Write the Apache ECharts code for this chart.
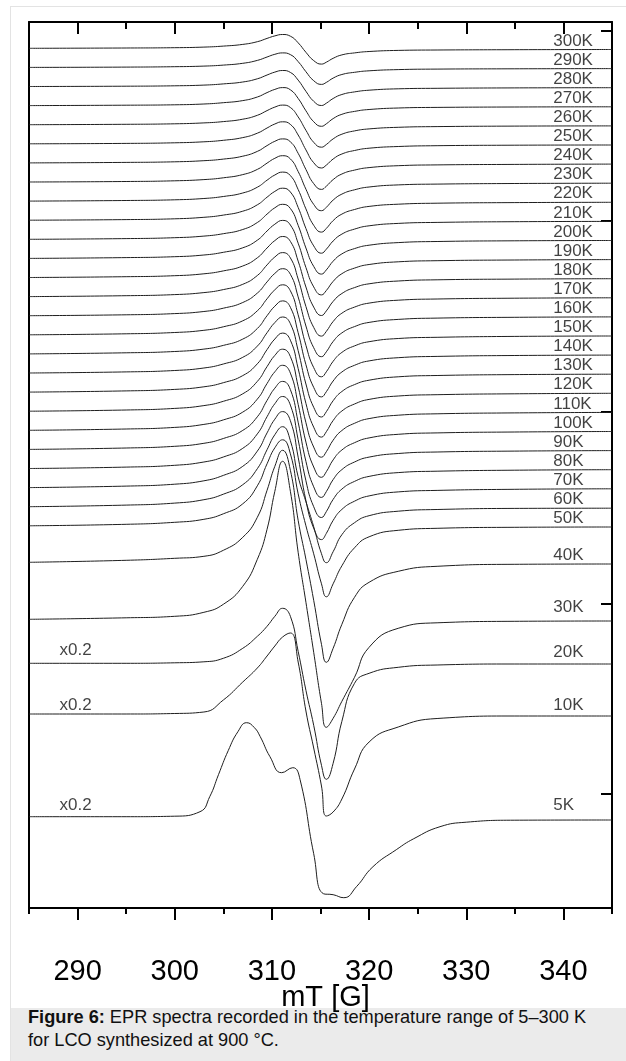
<!DOCTYPE html>
<html>
<head>
<meta charset="utf-8">
<script src="https://cdn.jsdelivr.net/npm/echarts@6/dist/echarts.min.js"></script>
<style>
  html, body { margin: 0; padding: 0; background: #fff; }
  #wrap { position: relative; width: 626px; height: 1061px; overflow: hidden; background: #fff; }
  #frame { position: absolute; left: 10px; top: 6px; width: 640px; height: 1080px; border: 1px solid #e3e3e3; box-sizing: border-box; }
  #chart { position: absolute; left: 0; top: 0; width: 626px; height: 1061px; }
  #caption { position: absolute; left: 11px; top: 1008px; width: 640px; height: 70px; background: #ebebeb;
    font-family: "Liberation Sans", Arial, sans-serif; font-size: 18.2px; line-height: 23px; color: #111; padding: 0 0 0 17px; box-sizing: border-box; }
  #caption div { position: relative; top: -2px; }
</style>
</head>
<body>
<div id="wrap">
  <div id="frame"></div>
  <div id="caption"><div><b>Figure 6:</b> EPR spectra recorded in the temperature range of 5–300 K<br>for LCO synthesized at 900 °C.</div></div>
  <div id="chart"></div>
</div>
<script>
// ---------------- data ----------------
// magnetic field grid (mT) shared by the 300K ... 10K spectra
const field = [285, 295, 300, 303, 305, 307, 308.5, 309.5, 310.3, 311.1, 311.9, 312.7, 313.5, 314.3, 315.1, 315.6, 316.3, 317.2, 318.5, 320, 323, 327, 335, 345];
// field grid for the 5K spectrum
const field5K = [285, 295, 300, 302.6, 303.6, 304.5, 305.5, 306.5, 307.4, 308.2, 308.8, 309.8, 311, 312.15, 312.9, 314.3, 315.3, 316.3, 317.4, 318.7, 320.4, 322.8, 324.6, 327.3, 330, 335, 345];

const temps = ['300K','290K','280K','270K','260K','250K','240K','230K','220K','210K','200K','190K','180K','170K','160K','150K','140K','130K','120K','110K','100K','90K','80K','70K','60K','50K','40K','30K','20K','10K','5K'];

// vertical stacking offsets of each spectrum (a.u.)
const offsets = [859.7, 840.6, 821.5, 802.4, 783.3, 764.2, 745.1, 726.0, 706.9, 687.8, 668.7, 649.6, 630.5, 611.4, 592.3, 573.2, 554.1, 535.0, 515.9, 496.8, 477.7, 458.6, 439.5, 420.4, 401.3, 382.2, 345.7, 288.7, 244.7, 194.0, 91.3];

// EPR derivative signals (a.u.)
const s300K = [0, 0.3, 0.6, 1.2, 2.2, 3.9, 6.6, 9.9, 12.4, 13.8, 12.1, 5.5, -4.0, -12.3, -15.8, -13.9, -10.0, -6.6, -4.6, -3.2, -2.1, -1.7, -1.4, -1.2];
const s290K = [0, 0.3, 0.7, 1.3, 2.3, 4.1, 7.0, 10.4, 13.1, 14.5, 12.8, 5.8, -4.3, -13.3, -17, -15.0, -10.7, -7.1, -4.9, -3.4, -2.2, -1.7, -1.4, -1.2];
const s280K = [0, 0.3, 0.7, 1.4, 2.6, 4.5, 7.7, 11.5, 14.4, 16, 14.1, 6.4, -4.8, -14.8, -19, -16.7, -12.0, -8.0, -5.4, -3.7, -2.3, -1.8, -1.4, -1.2];
const s270K = [0, 0.4, 0.8, 1.6, 2.9, 5.0, 8.6, 13.0, 16.2, 18, 15.8, 7.2, -5.2, -16.1, -20.7, -18.2, -13.0, -8.7, -5.8, -3.9, -2.4, -1.8, -1.4, -1.2];
const s260K = [0, 0.4, 0.9, 1.8, 3.1, 5.5, 9.4, 14.1, 17.6, 19.6, 17.2, 7.8, -5.6, -17.6, -22.5, -19.8, -14.2, -9.5, -6.2, -4.2, -2.6, -1.9, -1.4, -1.2];
const s250K = [0, 0.4, 1.0, 2.0, 3.5, 6.2, 10.6, 15.8, 19.8, 22, 19.4, 8.8, -6.1, -18.9, -24.2, -21.3, -15.2, -10.2, -6.7, -4.4, -2.7, -1.9, -1.4, -1.2];
const s240K = [0, 0.5, 1.1, 2.2, 3.8, 6.7, 11.5, 17.3, 21.6, 24, 21.1, 9.6, -6.6, -20.7, -26.5, -23.3, -16.7, -11.1, -7.2, -4.7, -2.8, -2.0, -1.5, -1.2];
const s230K = [0, 0.5, 1.2, 2.4, 4.2, 7.4, 12.6, 18.9, 23.7, 26.3, 23.1, 10.5, -7.2, -22.4, -28.7, -25.3, -18.1, -12.1, -7.8, -5.0, -2.9, -2.1, -1.5, -1.2];
const s220K = [0, 0.6, 1.3, 2.6, 4.6, 8.1, 13.9, 20.9, 26.1, 29, 25.5, 11.6, -7.8, -24.2, -31, -27.3, -19.5, -13.0, -8.4, -5.3, -3.1, -2.1, -1.5, -1.2];
const s210K = [0, 0.6, 1.4, 2.9, 5.1, 9.0, 15.4, 23.0, 28.8, 32, 28.2, 12.8, -8.3, -25.7, -33, -29.0, -20.8, -13.9, -8.9, -5.6, -3.2, -2.2, -1.5, -1.2];
const s200K = [0, 0.7, 1.6, 3.2, 5.6, 9.8, 16.8, 25.2, 31.5, 35, 30.8, 14, -8.7, -27.1, -34.8, -30.6, -21.9, -14.6, -9.3, -5.9, -3.3, -2.2, -1.5, -1.2];
const s190K = [0, 0.8, 1.7, 3.4, 6.1, 10.6, 18.2, 27.4, 34.2, 38, 33.4, 15.2, -9.1, -28.5, -36.5, -32.1, -23.0, -15.3, -9.7, -6.1, -3.4, -2.3, -1.6, -1.2];
const s180K = [0, 0.8, 1.8, 3.7, 6.6, 11.5, 19.7, 29.5, 36.9, 41, 36.1, 16.4, -9.5, -29.6, -38, -33.4, -23.9, -16.0, -10.1, -6.3, -3.5, -2.3, -1.6, -1.2];
const s170K = [0, 0.9, 2.0, 4.0, 7.0, 12.3, 21.1, 31.7, 39.6, 44, 38.7, 17.6, -9.9, -30.8, -39.5, -34.8, -24.9, -16.6, -10.5, -6.5, -3.6, -2.4, -1.6, -1.2];
const s160K = [0, 0.9, 2.1, 4.2, 7.5, 13.2, 22.6, 33.8, 42.3, 47, 41.4, 18.8, -10.3, -32.0, -41, -36.1, -25.8, -17.2, -10.9, -6.7, -3.7, -2.4, -1.6, -1.2];
const s150K = [0, 1, 2.3, 4.5, 8, 14, 24, 36, 45, 50, 44, 20, -10.5, -32.8, -42, -37.0, -26.5, -17.6, -11.1, -6.9, -3.7, -2.5, -1.6, -1.2];
const s140K = [0, 1.1, 2.4, 4.8, 8.5, 14.8, 25.4, 38.2, 47.7, 53, 46.6, 21.2, -10.8, -33.5, -43, -37.8, -27.1, -18.1, -11.4, -7.0, -3.8, -2.5, -1.6, -1.2];
const s130K = [0, 1.1, 2.5, 5.0, 9.0, 15.7, 26.9, 40.3, 50.4, 56, 49.3, 22.4, -11, -34.3, -44, -38.7, -27.7, -18.5, -11.6, -7.2, -3.8, -2.5, -1.6, -1.2];
const s120K = [0, 1.2, 2.7, 5.3, 9.4, 16.5, 28.3, 42.5, 53.1, 59, 51.9, 23.6, -11.3, -35.1, -45, -39.6, -28.4, -18.9, -11.9, -7.3, -3.9, -2.6, -1.7, -1.2];
const s110K = [0, 1.2, 2.8, 5.6, 9.9, 17.4, 29.8, 44.6, 55.8, 62, 54.6, 24.8, -11.5, -35.9, -46, -40.5, -29.0, -19.3, -12.1, -7.4, -4.0, -2.6, -1.7, -1.2];
const s100K = [0, 1.3, 2.9, 5.9, 10.4, 18.2, 31.2, 46.8, 58.5, 65, 57.2, 26, -11.8, -36.7, -47, -41.4, -29.6, -19.7, -12.4, -7.6, -4.0, -2.6, -1.7, -1.2];
const s90K  = [0, 1.4, 3.1, 6.1, 10.9, 19.0, 32.6, 49.0, 61.2, 68, 59.8, 27.2, -12, -37.4, -48, -42.2, -30.2, -20.2, -12.6, -7.7, -4.1, -2.6, -1.7, -1.2];
const s80K  = [0, 1.4, 3.2, 6.5, 11.5, 20.2, 34.6, 51.8, 64.8, 72, 63.4, 28.8, -12.3, -38.2, -49, -43.1, -30.9, -20.6, -12.9, -7.9, -4.1, -2.7, -1.7, -1.2];
const s70K  = [0, 1.5, 3.4, 6.8, 12.2, 21.3, 36.5, 54.7, 68.4, 76, 66.9, 30.4, -13, -40.6, -52, -45.8, -32.8, -21.8, -13.6, -8.3, -4.3, -2.8, -1.7, -1.2];
const s60K  = [0, 1.6, 3.6, 7, 12.5, 22, 38, 57, 72, 80, 66, 30, 5, -20, -47, -56, -45, -28, -16, -9, -4.5, -2.8, -1.7, -1.5];
const s50K  = [0, 1.5, 3.5, 6.5, 12, 22, 40, 62, 78, 86, 72, 32, 0, -28, -58, -71, -58, -40, -22, -11, -4.5, -2.5, -1.5, -1.2];
const s40K  = [0, 2, 4, 6, 12, 25, 45, 72, 96, 112, 92, 42, 3, -38, -82, -100, -86, -62, -35, -20, -9, -4, -2, -1.7];
const s30K  = [0, 1.5, 3, 7, 15, 33, 60, 90, 128, 158, 128, 67, 17, -33, -84, -108, -99, -82, -58, -28, -9, -3.5, -2, -1.7];
const s20K  = [0, 0, 0.5, 1.5, 5, 15, 27, 37, 47, 55, 47, 12, -27, -62, -102, -116, -100, -58, -20, -10, -4, -1.7, -0.7, -0.7];
const s10K  = [0, 0, 0.5, 2, 14, 32, 46, 58, 68, 77, 81, 52, 3, -34, -72, -102, -98, -85, -55, -28, -13, -4.5, -2, -2];
const s5K   = [0, 0, 0.5, 5, 20, 42, 66, 85, 94, 89, 80, 60, 44, 49, 37, -37, -77, -78, -81, -70, -50, -33, -22, -10, -5.5, -3.5, -3.3];

const signals = [s300K, s290K, s280K, s270K, s260K, s250K, s240K, s230K, s220K, s210K, s200K, s190K, s180K, s170K, s160K, s150K, s140K, s130K, s120K, s110K, s100K, s90K, s80K, s70K, s60K, s50K, s40K, s30K, s20K, s10K, s5K];
const scaled = ['20K', '10K', '5K'];   // spectra drawn with factor x0.2
const xTicksMajor = [290, 300, 310, 320, 330, 340];
const xTicksMinor = [285, 295, 305, 315, 325, 335, 345];
const yTicks = [877, 687, 496, 304, 114];

// ---------------- layout (not data) ----------------
const FONT = '"Liberation Sans", Arial, Helvetica, sans-serif';
const labelX = 338.9;                 // field position of the temperature labels
const scaleLabelX = 288.1;            // field position of the "x0.2" labels
const labelRaise = temps.map((t, i) => ({'40K': 9, '30K': 14, '20K': 12, '10K': 11, '5K': 15})[t] || 8.5);
const scaleRaise = {'20K': 13, '10K': 9, '5K': 11};

// ---------------- build ----------------
const lineSeries = temps.map((t, i) => {
  const xs = t === '5K' ? field5K : field;
  return {
    type: 'line', name: t, xAxisIndex: 0, yAxisIndex: 0,
    data: xs.map((x, j) => [x, offsets[i] + signals[i][j]]),
    smooth: 0.5, symbol: 'none', silent: true,
    lineStyle: { color: '#1e1e1e', width: 1 }
  };
});

const tempLabelData = temps.map((t, i) => {
  const s = signals[i];
  return { name: t, value: [labelX, offsets[i] + s[s.length - 1] + labelRaise[i]] };
});
const scaleLabelData = scaled.map(t => {
  const i = temps.indexOf(t);
  return { name: 'x0.2', value: [scaleLabelX, offsets[i] + signals[i][0] + scaleRaise[t]] };
});

const labelSeries = (data) => ({
  type: 'scatter', xAxisIndex: 0, yAxisIndex: 0, symbolSize: 1, silent: true,
  itemStyle: { color: 'rgba(0,0,0,0)' },
  data: data,
  label: { show: true, formatter: '{b}', position: 'right', distance: 0,
           fontFamily: FONT, fontSize: 17, color: '#111' }
});

const xBase = { type: 'value', min: 285, max: 345, interval: 5, gridIndex: 0, splitLine: { show: false } };
const hiddenLine = { show: false };
const blackLine = { show: true, lineStyle: { color: '#000', width: 2 } };

const option = {
  animation: false,
  backgroundColor: 'transparent',
  grid: { left: 29, top: 22, width: 583, height: 886, containLabel: false },
  xAxis: [
    Object.assign({}, xBase, {
      position: 'bottom', axisLine: blackLine,
      axisTick: { show: true, inside: false, length: 12, customValues: xTicksMajor, lineStyle: { color: '#000', width: 2 } },
      axisLabel: { show: true, customValues: xTicksMajor, fontFamily: FONT, fontSize: 29, color: '#000', margin: 49 },
      name: 'mT [G]', nameLocation: 'middle', nameGap: 75, nameMoveOverlap: false,
      nameTextStyle: { fontFamily: FONT, fontSize: 29, color: '#000', padding: [0, 0, 0, 10] }
    }),
    Object.assign({}, xBase, {
      position: 'bottom', axisLine: hiddenLine,
      axisTick: { show: true, inside: false, length: 6, customValues: xTicksMinor, lineStyle: { color: '#000', width: 2 } },
      axisLabel: { show: false }
    }),
    Object.assign({}, xBase, {
      position: 'top', axisLine: blackLine,
      axisTick: { show: true, inside: true, length: 12, customValues: xTicksMajor, lineStyle: { color: '#000', width: 2 } },
      axisLabel: { show: false }
    }),
    Object.assign({}, xBase, {
      position: 'top', axisLine: hiddenLine,
      axisTick: { show: true, inside: true, length: 7, customValues: xTicksMinor, lineStyle: { color: '#000', width: 2 } },
      axisLabel: { show: false }
    })
  ],
  yAxis: [
    { type: 'value', min: 0, max: 886, position: 'left', axisLine: blackLine,
      axisTick: { show: false }, axisLabel: { show: false }, splitLine: { show: false } },
    { type: 'value', min: 0, max: 886, position: 'right', axisLine: blackLine,
      axisTick: { show: true, inside: true, length: 11, customValues: yTicks, lineStyle: { color: '#000', width: 2 } },
      axisLabel: { show: false }, splitLine: { show: false } }
  ],
  series: lineSeries.concat([labelSeries(tempLabelData), labelSeries(scaleLabelData)])
};

const chart = echarts.init(document.getElementById('chart'), null, { renderer: 'canvas' });
chart.setOption(option);
</script>
</body>
</html>
